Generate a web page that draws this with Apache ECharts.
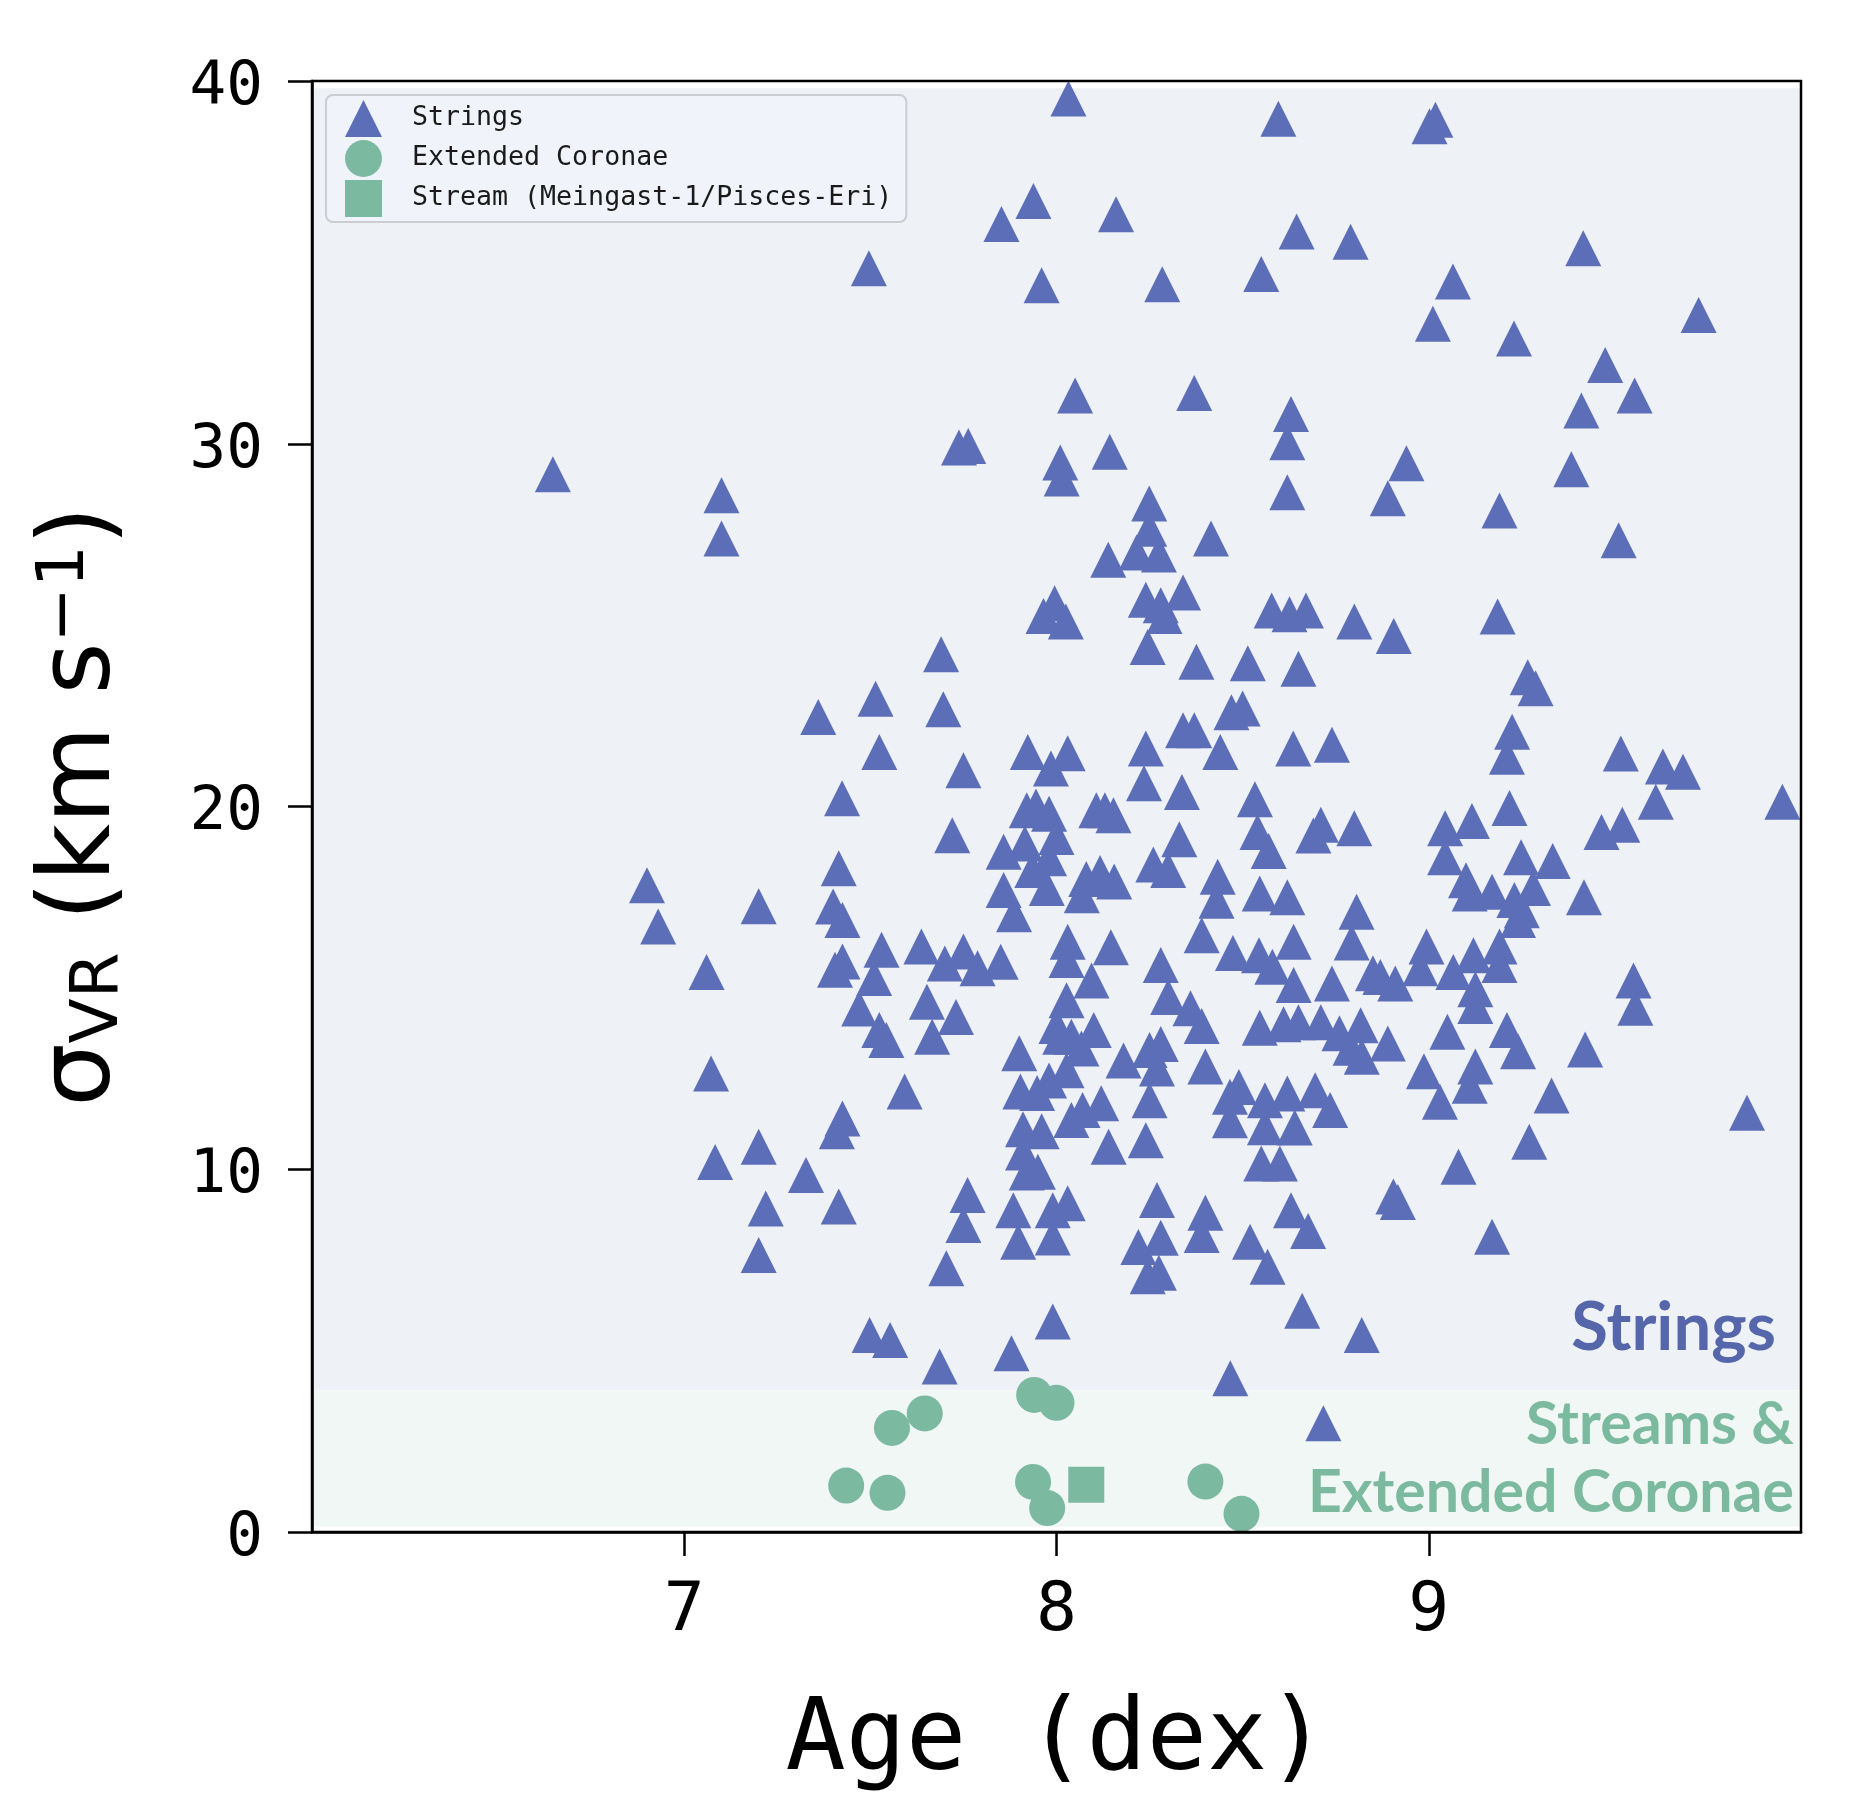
<!DOCTYPE html>
<html><head><meta charset="utf-8">
<script src="https://cdn.jsdelivr.net/npm/echarts@6/dist/echarts.min.js"></script>
<style>html,body{margin:0;padding:0;background:#fff}#c{width:1858px;height:1811px}</style>
</head><body><div id="c"></div>
<script>
// ---- data ----
const xTickValues = [7, 8, 9];
const yTickValues = [0, 10, 20, 30, 40];
const seriesNames = ['Strings', 'Extended Coronae', 'Stream (Meingast-1/Pisces-Eri)'];

const stringsAge = [
 6.647,7.10,7.10,7.496,7.738,7.763,7.852,7.938,7.96,8.032,8.01,8.014,8.05,8.16,8.143,8.284,8.249,8.249,8.215,8.275,
 8.139,8.37,8.415,8.55,8.596,8.645,8.63,8.62,8.62,8.79,8.89,8.94,9.018,9.002,9.011,9.065,9.229,9.19,9.383,9.41,
 9.415,9.474,9.553,9.51,9.725,
 7.965,7.995,8.025,8.24,8.28,8.34,8.29,8.578,8.626,8.67,8.80,8.906,9.185,8.245,8.376,8.514,8.65,9.266,9.287,9.224,
 9.21,9.516,9.629,9.683,9.61,9.95,9.217,7.36,7.514,7.69,7.696,7.524,7.75,7.424,7.923,7.985,8.03,8.24,8.235,8.337,
 8.34,8.37,8.47,8.50,8.44,8.636,8.74,8.533,8.107,8.13,8.153,7.92,7.945,7.98,
 7.72,7.415,6.90,6.93,7.20,7.06,7.40,7.425,7.405,7.425,7.53,7.51,7.858,7.915,7.98,7.935,7.858,7.886,7.974,
 7.637,7.70,7.75,7.788,7.85,8.0,8.33,8.26,8.30,8.08,8.117,8.155,8.068,8.03,8.027,8.146,8.28,8.094,8.027,
 8.54,8.57,8.546,8.62,8.71,8.69,8.80,8.433,8.43,8.39,8.474,8.544,8.58,8.637,8.637,8.74,8.85,8.87,8.91,8.994,
 8.977,9.066,9.12,9.19,9.19,9.125,9.125,9.55,9.555,9.116,9.044,9.464,9.52,9.248,9.333,9.044,9.1,9.17,9.23,9.28,
 9.11,9.24,9.25,9.417,8.806,8.793,
 7.47,7.524,7.543,7.652,7.73,7.666,7.90,7.072,7.083,7.20,7.20,7.219,7.327,7.415,7.425,7.41,7.592,7.761,7.75,7.704,
 7.498,7.553,7.686,7.879,7.99,7.903,7.948,7.98,7.91,7.96,7.91,7.92,7.95,7.884,7.99,7.897,7.99,8.03,
 8.01,8.04,8.0,8.10,8.067,8.027,8.04,8.07,8.12,8.14,8.18,8.25,8.28,8.27,8.25,8.24,8.40,8.27,8.40,8.466,
 8.49,8.56,8.62,8.695,8.735,8.466,8.56,8.64,8.55,8.60,8.63,8.676,8.39,8.36,8.30,8.546,8.61,8.65,8.71,8.817,
 8.76,8.79,8.82,8.89,9.05,9.21,9.24,9.42,8.467,8.717,8.82,8.66,9.855,9.17,9.27,9.08,8.917,8.905,9.33,8.567,
 8.52,8.39,8.22,8.28,8.245,8.275,8.987,9.125,9.11,9.03
];
const stringsSigma = [
 29.16,28.58,27.39,34.84,29.9,29.94,36.06,36.69,34.37,39.52,29.48,29.04,31.33,36.33,29.78,34.4,28.35,27.66,27.0,26.95,
 26.8,31.4,27.39,34.68,38.96,35.85,30.82,30.04,28.66,35.57,28.5,29.46,38.93,38.75,33.31,34.47,32.9,28.16,29.3,30.92,
 35.39,32.17,31.33,27.34,33.55,
 25.25,25.6,25.1,25.7,25.55,25.9,25.25,25.4,25.3,25.4,25.1,24.7,25.24,24.4,23.99,23.95,23.8,23.56,23.26,22.06,
 21.37,21.46,21.1,20.96,20.13,20.13,19.96,22.47,22.97,24.2,22.68,21.5,21.0,20.23,21.5,21.05,21.47,21.6,20.64,20.4,
 22.1,22.1,22.6,22.7,21.5,21.6,21.7,20.2,19.9,19.9,19.76,19.9,20.0,19.8,
 19.21,18.3,17.83,16.69,17.25,15.44,17.24,16.87,15.5,15.73,16.05,15.27,18.75,18.98,18.57,18.25,17.7,17.03,17.75,
 16.14,15.67,16.0,15.54,15.72,19.16,19.1,18.4,18.25,18.0,18.17,17.93,17.55,16.27,15.77,16.12,15.63,15.2,14.66,
 19.3,18.77,17.6,17.5,19.5,19.2,19.4,18.06,17.4,16.45,15.96,15.9,15.58,16.27,15.08,15.12,15.4,15.3,15.12,16.14,
 15.54,15.44,15.9,16.14,15.63,14.96,14.5,15.2,14.45,19.6,19.4,19.3,19.5,18.6,18.5,18.6,17.97,17.65,17.42,17.75,
 17.6,16.87,17.14,17.5,17.1,16.25,
 14.43,13.84,13.56,14.62,14.2,13.65,13.2,12.64,10.2,10.62,7.635,8.92,9.84,8.97,11.4,11.05,12.14,9.29,8.46,7.27,
 5.43,5.29,4.56,4.93,5.8,12.14,12.1,12.45,11.1,11.05,10.46,9.91,9.93,8.87,8.87,8.0,8.12,9.06,
 13.65,13.65,13.95,13.84,13.33,12.73,11.36,11.63,11.82,10.62,13.0,13.29,13.45,12.78,11.9,10.8,12.83,9.15,8.8,12.0,
 12.27,11.9,12.09,12.18,11.63,11.35,11.16,11.15,10.16,10.16,8.87,8.3,13.95,14.44,14.75,13.9,14.0,14.05,14.05,13.97,
 13.75,13.35,13.1,13.47,13.79,13.84,13.25,13.3,4.24,3.0,5.43,6.1,11.56,8.14,10.76,10.07,9.1,9.25,12.03,7.31,
 8.0,8.19,7.86,8.11,7.05,7.15,12.7,12.83,12.3,11.86
];
const coronaeAge = [7.435, 7.546, 7.558, 7.646, 7.94, 8.0, 7.937, 7.975, 8.40, 8.497];
const coronaeSigma = [1.28, 1.08, 2.87, 3.27, 3.78, 3.56, 1.38, 0.66, 1.39, 0.5];
const streamAge = [8.08];
const streamSigma = [1.3];
// background bands (sigma ranges)
const stringsBand = [3.9, 39.8];
const streamsBand = [0.15, 3.9];

// ---- build ----
const zip = (a, b) => a.map((v, i) => [v, b[i]]);
const blue = '#5c6eb8', green = '#7bb9a1';
const chart = echarts.init(document.getElementById('c'), null, {renderer: 'canvas'});
const GRID = {left: 312, top: 81, width: 1489, height: 1451};

chart.setOption({
  animation: false,
  backgroundColor: '#ffffff',
  grid: Object.assign({show: true, borderColor: '#000', borderWidth: 2.5, backgroundColor: 'transparent', z: 5}, GRID),
  legend: {
    orient: 'vertical', left: 326, top: 95,
    padding: [5, 14, 5, 19],
    itemWidth: 37, itemHeight: 37, itemGap: 3,
    backgroundColor: 'rgba(240,243,248,0.92)',
    borderColor: '#cbcdd0', borderWidth: 2, borderRadius: 7,
    textStyle: {fontFamily: 'DejaVu Sans Mono', fontSize: 26.6, color: '#1a1a1a', padding: [0, 0, 0, 25]},
    selectedMode: false,
    data: [
      {name: seriesNames[0], icon: 'triangle'},
      {name: seriesNames[1], icon: 'circle'},
      {name: seriesNames[2], icon: 'rect'}
    ]
  },
  xAxis: {
    type: 'value', min: 6, max: 10, interval: 1, z: 6,
    axisLine: {show: true, onZero: false, lineStyle: {color: '#000', width: 2.5}},
    axisTick: {show: true, length: 24, customValues: xTickValues, lineStyle: {color: '#000', width: 2.5}},
    axisLabel: {customValues: xTickValues, fontFamily: 'DejaVu Sans Mono', fontSize: 68, color: '#000', margin: 46},
    splitLine: {show: false},
    name: 'Age (dex)', nameLocation: 'middle', nameGap: 161,
    nameTextStyle: {fontFamily: 'DejaVu Sans Mono', fontSize: 100, color: '#000'}
  },
  yAxis: {
    type: 'value', min: 0, max: 40, interval: 10, z: 6,
    axisLine: {show: true, onZero: false, lineStyle: {color: '#000', width: 2.5}},
    axisTick: {show: true, length: 24, customValues: yTickValues, lineStyle: {color: '#000', width: 2.5}},
    axisLabel: {customValues: yTickValues, margin: 49, formatter: '{v|{value}}',
      rich: {v: {fontFamily: 'DejaVu Sans Mono', fontSize: 61, color: '#000', padding: [14, 0, 0, 0]}}},
    splitLine: {show: false},
    name: '{a|σ}{b|VR}{a| (km s}{c|−1}{a|)}', nameLocation: 'middle', nameRotate: 90, nameGap: 179,
    nameTextStyle: {
      fontFamily: 'DejaVu Sans', fontSize: 100, color: '#000',
      rich: {
        a: {fontFamily: 'DejaVu Sans', fontSize: 100, lineHeight: 100, color: '#000'},
        b: {fontFamily: 'DejaVu Sans', fontSize: 66, lineHeight: 48, verticalAlign: 'bottom', color: '#000'},
        c: {fontFamily: 'DejaVu Sans', fontSize: 66, lineHeight: 42, verticalAlign: 'top', color: '#000'}
      }
    }
  },
  graphic: [
    {type: 'rect', z: 4, silent: true, shape: {x: 1803, y: 60, width: 55, height: 1500}, style: {fill: '#ffffff'}},
    {type: 'text', z: 3, style: {text: 'Strings', x: 1776, y: 1328, textAlign: 'right', textVerticalAlign: 'middle',
      fontFamily: 'Lato', fontWeight: 'bold', fontSize: 67, fill: '#5566aa'}},
    {type: 'text', z: 3, style: {text: 'Streams &', x: 1794, y: 1425, textAlign: 'right', textVerticalAlign: 'middle',
      fontFamily: 'Lato', fontWeight: 'bold', fontSize: 59, fill: '#7bba9f'}},
    {type: 'text', z: 3, style: {text: 'Extended Coronae', x: 1794, y: 1493, textAlign: 'right', textVerticalAlign: 'middle',
      fontFamily: 'Lato', fontWeight: 'bold', fontSize: 59, fill: '#7bba9f'}}
  ],
  series: [
    {
      type: 'scatter', name: 'bands', data: [], z: 0, silent: true,
      markArea: {
        silent: true,
        data: [
          [{xAxis: 6, yAxis: stringsBand[0], itemStyle: {color: '#eef1f6'}}, {xAxis: 10, yAxis: stringsBand[1]}],
          [{xAxis: 6, yAxis: streamsBand[0], itemStyle: {color: '#f1f7f5'}}, {xAxis: 10, yAxis: streamsBand[1]}]
        ]
      }
    },
    {type: 'scatter', name: seriesNames[0], symbol: 'triangle', symbolSize: [36, 36], clip: true, z: 2,
      itemStyle: {color: blue, opacity: 1}, data: zip(stringsAge, stringsSigma)},
    {type: 'scatter', name: seriesNames[1], symbol: 'circle', symbolSize: 36, clip: true, z: 2,
      itemStyle: {color: green, opacity: 1}, data: zip(coronaeAge, coronaeSigma)},
    {type: 'scatter', name: seriesNames[2], symbol: 'rect', symbolSize: 36, clip: true, z: 2,
      itemStyle: {color: green, opacity: 1}, data: zip(streamAge, streamSigma)}
  ]
});
</script>
</body></html>
